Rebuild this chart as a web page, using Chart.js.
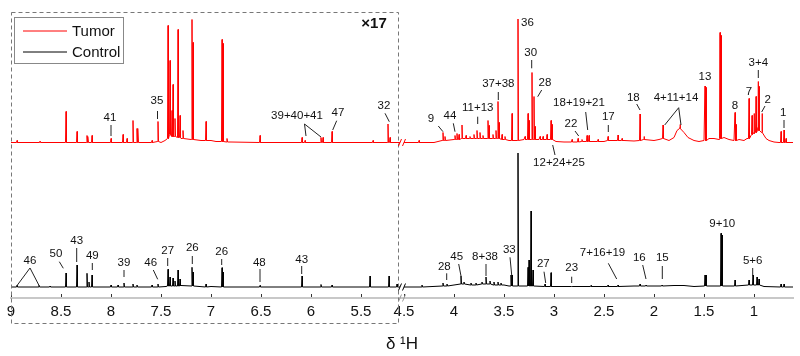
<!DOCTYPE html>
<html><head><meta charset="utf-8">
<script src="https://cdn.jsdelivr.net/npm/chart.js@4.4.0/dist/chart.umd.min.js"></script>
<style>html,body{margin:0;padding:0;background:#fff}#wrap{width:800px;height:356px}</style>
</head><body><div id="wrap"><canvas id="c" width="800" height="356"></canvas></div>
<script>
// ---------- tick labels (ppm) ----------
const tickPpm = [9, 8.5, 8, 7.5, 7, 6.5, 6, 5.5, 4.5, 4, 3.5, 3, 2.5, 2, 1.5, 1];
const tickLabels = ['9', '8.5', '8', '7.5', '7', '6.5', '6', '5.5', '4.5', '4', '3.5', '3', '2.5', '2', '1.5', '1'];

// ---------- Tumor spectrum (heights above its own baseline) ----------
const tumorBasePpm = [9.0, 7.50, 7.46, 7.30, 7.20, 7.10, 7.00, 6.95, 6.80, 5.11,
  4.50, 4.20, 4.12, 4.00, 3.90, 3.80, 3.70, 3.60, 3.50, 3.45, 3.30, 3.15, 3.05, 2.98, 2.90, 2.60, 2.50, 2.40, 2.30, 2.20, 2.10, 2.00, 1.95, 1.85, 1.80, 1.77, 1.74, 1.70, 1.66, 1.60, 1.55, 1.50, 1.45, 1.40, 1.35, 1.30, 1.25, 1.20, 1.15, 1.10, 1.07, 1.00, 0.96, 0.92, 0.88, 0.85, 0.80, 0.75, 0.61];
const tumorBaseVal = [0, 0, 2, 4, 3, 2, 2, 1, 0.5, 0,
  0, 0, 2, 3, 4, 4, 4, 4, 3, 2, 3, 3, 3, 1, 0.5, 1, 1, 2, 2, 1.5, 3, 2, 3, 2, 5, 12, 15, 10, 5, 2, 1, 2, 4, 4, 3, 5, 3, 2, 3, 2, 4, 10, 15, 10, 4, 2, 0.5, 0, 0];
const tumorPeakPpm = [8.94, 8.71, 8.45, 8.34, 8.24, 8.23, 8.19, 8.00, 7.88, 7.84, 7.78, 7.74, 7.73, 7.59, 7.53, 7.43, 7.41, 7.39, 7.38, 7.36, 7.33, 7.31, 7.28, 7.19, 7.18, 7.05, 6.89, 6.88, 6.84, 6.51, 6.09, 6.06, 5.90, 5.88, 5.79, 5.38, 5.23, 5.21,
  4.35, 4.11, 4.09, 3.99, 3.97, 3.95, 3.92, 3.88, 3.84, 3.80, 3.77, 3.74, 3.71, 3.66, 3.65, 3.61, 3.58, 3.56, 3.55, 3.52, 3.49, 3.42, 3.36, 3.29, 3.26, 3.25, 3.22, 3.20, 3.19, 3.14, 3.11, 3.07, 3.03, 3.02, 2.82, 2.76, 2.72, 2.67, 2.65, 2.56, 2.46, 2.36, 2.32, 2.14, 2.10, 1.91, 1.74, 1.49, 1.48, 1.34, 1.33, 1.19, 1.18, 1.05, 1.02, 1.00, 0.98, 0.96, 0.95, 0.92, 0.73, 0.70, 0.68];
const tumorPeakTop = [2, 1.5, 31, 11, 7, 6, 7, 4, 8, 4, 22, 14, 14, 2, 21, 117, 82, 32, 58, 24, 113, 27, 12, 123, 100, 21, 103, 99, 4, 7, 5, 2, 5, 5, 11, 2, 18.5, 5,
  2, 10, 6, 7, 9, 8, 17.5, 7, 6, 8, 12, 10, 7, 22, 17, 8, 12, 41, 20, 8, 6, 29, 123.5, 6, 29, 22, 70, 46, 16, 6, 6, 8, 22, 18, 3, 4, 3, 7, 7, 3, 6, 7.5, 4, 28.5, 6, 17.5, 18, 56.5, 55, 110, 107, 30, 18, 44, 27, 29, 46, 61, 56, 29, 11, 12.5, 4];
const tumorPeakFoot = [0, 0, 0, 0, 0, 0, 0, 0, 0, 0, 0, 0, 0, 0, 1, 4, 8, 6, 6, 6, 5, 5, 4, 3, 3, 2, 1, 1, 0.5, 0, 0, 0, 0, 0, 0, 0, 0, 0,
  0, 2, 2, 3, 3, 3, 4, 4, 4, 4, 4, 4, 4, 4, 4, 4, 4, 4, 4, 3, 3, 2, 2, 3, 3, 3, 3, 3, 3, 3, 3, 3, 3, 3, 0.5, 0.5, 1, 1, 1, 1, 2, 2, 2, 2, 3, 4, 14, 2, 2, 4, 4, 2, 2, 4, 8, 9, 10, 12, 12, 10, 0, 0, 0];

// ---------- Control spectrum ----------
const controlBasePpm = [9.0, 7.45, 7.30, 7.00, 5.11,
  4.50, 4.40, 4.00, 3.90, 3.80, 3.70, 3.60, 3.50, 3.45, 3.30, 3.00, 2.50, 2.20, 2.00, 1.80, 1.70, 1.60, 1.00, 0.90, 0.61];
const controlBaseVal = [0, 0.5, 1.5, 0.5, 0,
  0, 0, 2, 3, 2, 3, 2.5, 2, 1, 1, 0.5, 0.5, 1, 1, 1.5, 1.5, 0.5, 2, 0.5, 0];
const controlPeakPpm = [8.94, 8.72, 8.61, 8.45, 8.34, 8.24, 8.22, 8.19, 8.00, 7.93, 7.87, 7.78, 7.74, 7.59, 7.53, 7.43, 7.41, 7.38, 7.36, 7.33, 7.31, 7.19, 7.18, 7.05, 6.89, 6.88, 6.51, 6.09, 5.90, 5.79, 5.41, 5.22, 5.14,
  4.32, 4.11, 4.07, 3.93, 3.90, 3.83, 3.78, 3.72, 3.68, 3.64, 3.60, 3.56, 3.53, 3.43, 3.42, 3.36, 3.26, 3.25, 3.23, 3.21, 3.09, 3.03, 2.82, 2.63, 2.46, 2.36, 2.14, 2.08, 1.92, 1.49, 1.48, 1.33, 1.32, 1.19, 1.05, 1.01, 0.97, 0.95, 0.73, 0.70];
const controlPeakTop = [1.5, 1.5, 1, 14, 22, 13.7, 5, 12, 2, 2, 4, 3, 2, 2, 3, 17.7, 10, 9, 6, 17, 8, 19.7, 15, 3, 19.3, 15, 1.5, 11, 2.5, 2, 11, 11, 3,
  2, 4, 3, 11, 5, 4, 4, 5, 10, 6, 5, 5, 4, 12, 12, 134, 19.7, 27, 76, 17, 3, 14.3, 1, 1.5, 2, 2, 3, 2, 2, 12, 12, 53.7, 52, 7, 7, 12, 10, 8, 3, 3];
const controlPeakFoot = [0, 0, 0, 0, 0, 0, 0, 0, 0, 0, 0, 0, 0, 0, 0, 1, 1, 1, 1, 1, 1, 1, 1, 0, 0, 0, 0, 0, 0, 0, 0, 0, 0,
  0, 1, 1, 3, 3, 2, 2, 3, 3, 3, 2, 2, 2, 1, 1, 1, 1, 1, 1, 1, 0.5, 0.5, 0.5, 0.5, 0.5, 0.5, 1, 1, 1, 1, 1, 1, 1, 1, 2, 2, 2, 2, 0, 0];

// ---------- annotations: [text, ppm, value, leader lines [p1,v1,p2,v2]] ----------
const annotations = [
  ['41', 8.01, 180, [[8.00, 173, 8.00, 162]]],
  ['35', 7.54, 197, [[7.535, 187, 7.535, 179]]],
  ['39+40+41', 6.14, 182, [[6.065, 174, 6.05, 162], [6.065, 174, 5.90, 161]]],
  ['47', 5.73, 185, [[5.743, 177.3, 5.783, 168]]],
  ['32', 5.27, 192, [[5.26, 184.7, 5.217, 176.3]]],
  ['9', 4.23, 179, [[4.157, 172, 4.11, 166.3]]],
  ['44', 4.04, 182, [[4.007, 174.7, 3.99, 166.3]]],
  ['11+13', 3.763, 190.3, [[3.763, 181.3, 3.763, 174]]],
  ['37+38', 3.557, 214, [[3.557, 206, 3.557, 198]]],
  ['36', 3.265, 275, []],
  ['30', 3.233, 245.3, [[3.223, 238, 3.223, 229.7]]],
  ['28', 3.09, 215.3, [[3.123, 208, 3.163, 201.3]]],
  ['18+19+21', 2.75, 195.3, [[2.683, 186, 2.663, 168]]],
  ['22', 2.83, 174, [[2.79, 167, 2.753, 162]]],
  ['12+24+25', 2.95, 134.7, [[2.99, 143, 3.013, 153]]],
  ['17', 2.457, 181.3, [[2.457, 173, 2.457, 166]]],
  ['18', 2.207, 200.3, [[2.173, 194, 2.14, 188]]],
  ['4+11+14', 1.78, 200.3, [[1.753, 190.3, 1.893, 173], [1.753, 190.3, 1.73, 173]]],
  ['13', 1.49, 220.7, []],
  ['8', 1.19, 192, []],
  ['7', 1.05, 206.3, []],
  ['3+4', 0.957, 235.3, [[0.957, 228, 0.957, 220]]],
  ['2', 0.863, 198, [[0.89, 192, 0.923, 186]]],
  ['1', 0.707, 184.7, [[0.70, 178, 0.70, 170]]],
  ['46', 8.81, 37, [[8.81, 30, 8.943, 12], [8.81, 30, 8.717, 12]]],
  ['50', 8.55, 44, [[8.517, 36.3, 8.477, 29.7]]],
  ['43', 8.343, 57, [[8.343, 50, 8.343, 36]]],
  ['49', 8.187, 42, [[8.187, 35, 8.187, 28]]],
  ['39', 7.87, 34.7, [[7.87, 28, 7.87, 21]]],
  ['46', 7.603, 34.7, [[7.577, 28, 7.533, 18.7]]],
  ['27', 7.433, 47.3, [[7.433, 40, 7.433, 32]]],
  ['26', 7.187, 49.7, [[7.187, 42, 7.187, 34]]],
  ['26', 6.893, 46.3, [[6.893, 39, 6.893, 33]]],
  ['48', 6.517, 34.7, [[6.51, 29, 6.51, 16]]],
  ['43', 6.093, 38, [[6.093, 32, 6.093, 24]]],
  ['28', 4.097, 31.3, [[4.073, 24.7, 4.073, 18]]],
  ['45', 3.973, 41.3, [[3.953, 34, 3.93, 22]]],
  ['8+38', 3.69, 41.3, [[3.68, 34, 3.68, 22]]],
  ['33', 3.447, 48, [[3.44, 40.7, 3.423, 23]]],
  ['27', 3.107, 34, [[3.10, 26.3, 3.083, 15]]],
  ['23', 2.823, 29.7, [[2.823, 21.3, 2.823, 15]]],
  ['7+16+19', 2.515, 44.7, [[2.457, 34.7, 2.373, 19]]],
  ['16', 2.147, 39.7, [[2.113, 33, 2.08, 19]]],
  ['15', 1.917, 39.7, [[1.917, 32, 1.917, 19]]],
  ['9+10', 1.317, 74, []],
  ['5+6', 1.013, 37.3, [[1.013, 30, 1.013, 22]]]
];

// ---------- layout / style constants ----------
const TUMOR_OFFSET = 155.5, CONTROL_OFFSET = 11;
const AX = {leftStart: 9, leftEnd: 5.11, rightStart: 4.5, rightEnd: 0.61, gap: 4, unit: 100, split: 4.8};
const PEAK_W = 0.005;
const RED = '#ff0000', BLACK = '#000000';
const FONT = '"Liberation Sans", Arial, sans-serif';

function toU(p) {
  return p > AX.split ? (AX.leftStart - p) * AX.unit
    : (AX.leftStart - AX.leftEnd) * AX.unit + AX.gap + (AX.rightStart - p) * AX.unit;
}
const U_MAX = toU(AX.rightEnd);

function buildSeries(bp, bv, pp, pt, pf, off) {
  const pts = [];
  bp.forEach((p, i) => pts.push([p, bv[i]]));
  pp.forEach((p, i) => { pts.push([p + PEAK_W, pf[i]]); pts.push([p, pt[i]]); pts.push([p - PEAK_W, pf[i]]); });
  pts.sort((a, b) => b[0] - a[0]);
  const out = []; let broke = false;
  pts.forEach(([p, v]) => {
    if (!broke && p < AX.split) { out.push({x: (toU(AX.leftEnd) + toU(AX.rightStart)) / 2, y: null}); broke = true; }
    out.push({x: toU(p), y: off + v});
  });
  return out;
}

const decor = {
  id: 'decor',
  afterDraw(chart) {
    const ctx = chart.ctx, xs = chart.scales.x, ys = chart.scales.y, ca = chart.chartArea;
    const X = p => xs.getPixelForValue(toU(p));
    const Y = v => ys.getPixelForValue(v);
    ctx.save();
    // inward tick marks
    ctx.strokeStyle = '#333'; ctx.lineWidth = 1;
    tickPpm.forEach(p => { const x = Math.round(X(p)) + 0.5; ctx.beginPath(); ctx.moveTo(x, ca.bottom - 4); ctx.lineTo(x, ca.bottom - 1); ctx.stroke(); });
    // dashed box around scaled region
    ctx.strokeStyle = '#777'; ctx.setLineDash([4, 3]);
    const bx0 = Math.round(X(AX.leftStart)) + 0.5, bx1 = Math.round(X(AX.leftEnd) - 2) + 0.5;
    ctx.strokeRect(bx0, ca.top + 0.5, bx1 - bx0, ca.bottom + 25 - ca.top);
    ctx.setLineDash([]);
    // break marks
    const bxm = (X(AX.leftEnd) + X(AX.rightStart)) / 2;
    [[TUMOR_OFFSET, RED], [CONTROL_OFFSET, BLACK], [null, '#999']].forEach(([o, c]) => {
      const y = o === null ? ca.bottom : Y(o);
      ctx.strokeStyle = c; ctx.lineWidth = 1;
      ctx.beginPath();
      ctx.moveTo(bxm - 3.5, y + 3.5); ctx.lineTo(bxm - 0.5, y - 3.5);
      ctx.moveTo(bxm + 0.5, y + 3.5); ctx.lineTo(bxm + 3.5, y - 3.5);
      ctx.stroke();
    });
    // annotations
    ctx.fillStyle = '#111'; ctx.strokeStyle = '#222'; ctx.lineWidth = 1;
    ctx.font = '11.5px ' + FONT; ctx.textAlign = 'center'; ctx.textBaseline = 'middle';
    annotations.forEach(([t, p, v, lines]) => {
      ctx.fillText(t, X(p), Y(v));
      lines.forEach(([p1, v1, p2, v2]) => { ctx.beginPath(); ctx.moveTo(X(p1), Y(v1)); ctx.lineTo(X(p2), Y(v2)); ctx.stroke(); });
    });
    // ×17
    ctx.font = 'bold 15px ' + FONT; ctx.fillStyle = '#111';
    ctx.fillText('×17', X(5.37), ca.top + 12);
    // legend
    ctx.fillStyle = '#fff'; ctx.strokeStyle = '#888';
    ctx.fillRect(14.5, 17.5, 109, 46); ctx.strokeRect(14.5, 17.5, 109, 46);
    [['Tumor', RED, 31], ['Control', BLACK, 52]].forEach(([t, c, y]) => {
      ctx.strokeStyle = c; ctx.lineWidth = 1; ctx.beginPath(); ctx.moveTo(23, y); ctx.lineTo(67, y); ctx.stroke();
      ctx.fillStyle = '#111'; ctx.font = '15px ' + FONT; ctx.textAlign = 'left';
      ctx.fillText(t, 72, y + 1);
    });
    ctx.restore();
  }
};

new Chart(document.getElementById('c'), {
  type: 'line',
  data: {
    datasets: [
      {label: 'Tumor', data: buildSeries(tumorBasePpm, tumorBaseVal, tumorPeakPpm, tumorPeakTop, tumorPeakFoot, TUMOR_OFFSET),
        borderColor: RED, borderWidth: 1, pointRadius: 0, tension: 0, spanGaps: false},
      {label: 'Control', data: buildSeries(controlBasePpm, controlBaseVal, controlPeakPpm, controlPeakTop, controlPeakFoot, CONTROL_OFFSET),
        borderColor: BLACK, borderWidth: 1, pointRadius: 0, tension: 0, spanGaps: false}
    ]
  },
  options: {
    responsive: false, animation: false, devicePixelRatio: 1,
    layout: {padding: {left: 11, right: 7, top: 12, bottom: 0}},
    plugins: {legend: {display: false}, tooltip: {enabled: false}},
    scales: {
      x: {
        type: 'linear', min: 0, max: U_MAX,
        afterBuildTicks: axis => { axis.ticks = tickPpm.map(p => ({value: toU(p)})); },
        ticks: {autoSkip: false, maxRotation: 0, padding: 4.5, color: '#111', font: {family: FONT, size: 15},
          callback: (v, i) => tickLabels[i]},
        grid: {display: false, drawTicks: false},
        border: {display: true, color: '#c8c8c8', width: 2},
        title: {display: true, text: 'δ ¹H', color: '#111', font: {family: FONT, size: 17}, padding: {top: 9.6, bottom: 1}}
      },
      y: {display: false, min: 0, max: 286}
    }
  },
  plugins: [decor]
});
</script></body></html>
